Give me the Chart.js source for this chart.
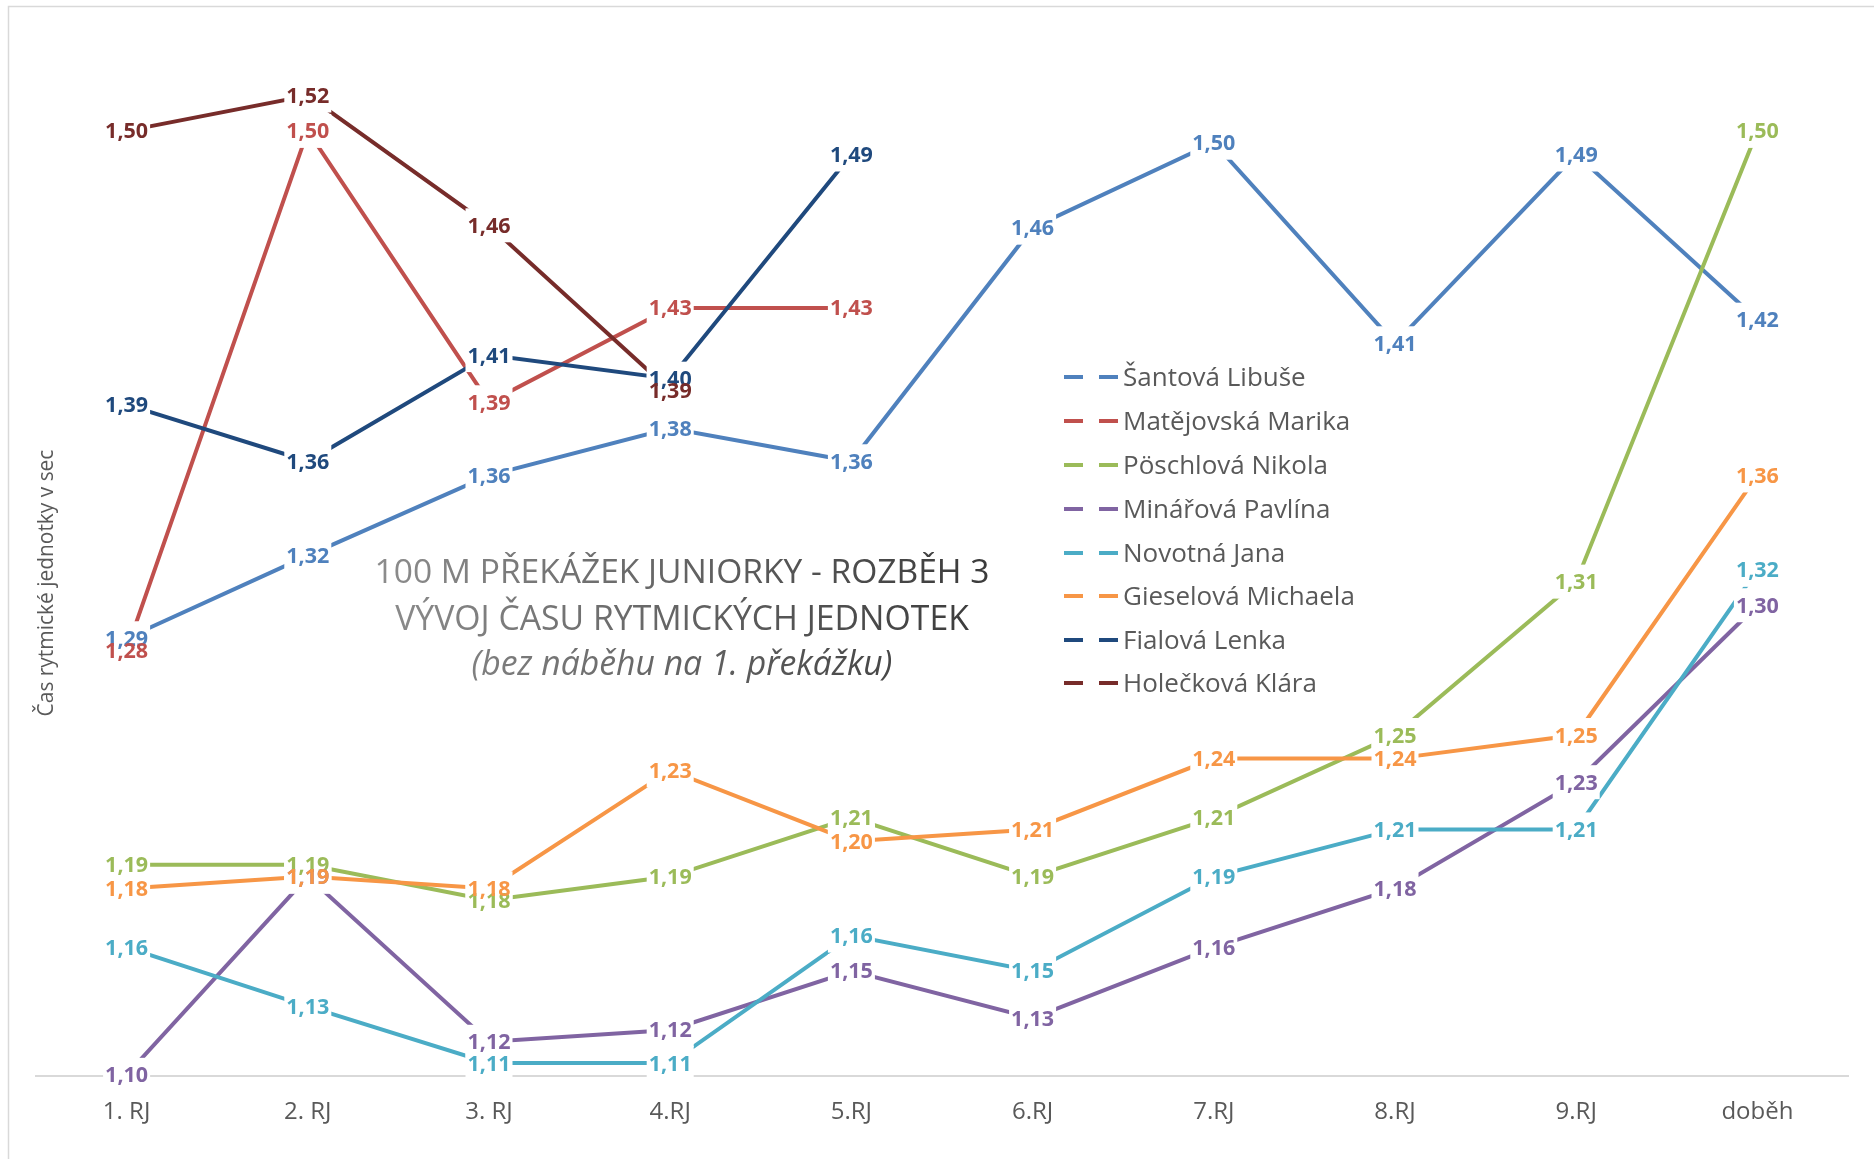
<!DOCTYPE html>
<html>
<head>
<meta charset="utf-8">
<title>100 m překážek juniorky - rozběh 3</title>
<script src="https://cdn.jsdelivr.net/npm/chart.js@4.4.0/dist/chart.umd.min.js"></script>
<style>
    html, body { margin: 0; padding: 0; background: #ffffff; }
    #wrap { width: 1874px; height: 1159px; }
</style>
</head>
<body>
<div id="wrap"><canvas id="chart" width="1874" height="1159"></canvas></div>
<script>
// === DATA ===
const categories = ['1. RJ', '2. RJ', '3. RJ', '4.RJ', '5.RJ', '6.RJ', '7.RJ', '8.RJ', '9.RJ', 'doběh'];

const santova     = [1.288, 1.323, 1.357, 1.377, 1.363, 1.462, 1.498, 1.413, 1.493, 1.423];
const matejovska  = [1.283, 1.503, 1.388, 1.428, 1.428, null, null, null, null, null];
const poschlova   = [1.192, 1.192, 1.177, 1.187, 1.212, 1.187, 1.212, 1.247, 1.312, 1.503];
const minarova    = [1.103, 1.187, 1.117, 1.122, 1.147, 1.127, 1.157, 1.182, 1.227, 1.302];
const novotna     = [1.157, 1.132, 1.108, 1.108, 1.162, 1.147, 1.187, 1.207, 1.207, 1.317];
const gieselova   = [1.182, 1.187, 1.182, 1.232, 1.202, 1.207, 1.237, 1.237, 1.247, 1.357];
const fialova     = [1.387, 1.363, 1.408, 1.398, 1.493, null, null, null, null, null];
const holeckova   = [1.503, 1.518, 1.463, 1.393, null, null, null, null, null, null];

const seriesNames = ['Šantová Libuše', 'Matějovská Marika', 'Pöschlová Nikola', 'Minářová Pavlína',
    'Novotná Jana', 'Gieselová Michaela', 'Fialová Lenka', 'Holečková Klára'];
const seriesData = [santova, matejovska, poschlova, minarova, novotna, gieselova, fialova, holeckova];
const seriesColors = ['#4F81BD', '#C0504D', '#9BBB59', '#8064A2', '#4BACC6', '#F79646', '#1F497D', '#772C2A'];

const titleLines = ['100 M PŘEKÁŽEK JUNIORKY - ROZBĚH 3', 'VÝVOJ ČASU RYTMICKÝCH JEDNOTEK', '(bez náběhu na 1. překážku)'];
const yAxisTitle = 'Čas rytmické jednotky v sec';

const FONT = '"Open Sans", "Noto Sans", sans-serif';
const TEXT_GREY = '#595959';

// === PLUGINS ===
const frame = {
    id: 'frame',
    beforeDraw(chart) {
        const ctx = chart.ctx;
        ctx.save();
        ctx.fillStyle = '#ffffff';
        ctx.fillRect(0, 0, chart.width, chart.height);
        ctx.strokeStyle = '#d9d9d9';
        ctx.lineWidth = 1.5;
        ctx.strokeRect(8.5, 6.5, chart.width + 20, chart.height + 20);
        ctx.restore();
    }
};

// value labels, centred on the points with a white box behind
const valueLabels = {
    id: 'valueLabels',
    afterDatasetsDraw(chart) {
        const ctx = chart.ctx;
        const items = [];
        ctx.save();
        ctx.font = 'bold 21.5px ' + FONT;
        chart.data.datasets.forEach((ds, i) => {
            const meta = chart.getDatasetMeta(i);
            meta.data.forEach((pt, j) => {
                const v = ds.data[j];
                if (v === null || v === undefined) return;
                const text = v.toFixed(2).replace('.', ',');
                items.push({ x: pt.x, y: pt.y, text: text, color: ds.borderColor, w: ctx.measureText(text).width });
            });
        });
        ctx.fillStyle = '#ffffff';
        items.forEach(it => ctx.fillRect(it.x - it.w / 2 - 2, it.y - 17, it.w + 4, 34));
        ctx.textAlign = 'center';
        ctx.textBaseline = 'alphabetic';
        items.forEach(it => {
            ctx.fillStyle = it.color;
            ctx.fillText(it.text, it.x, it.y + 7.5);
        });
        ctx.restore();
    }
};

function fitFont(ctx, text, style, target) {
    ctx.font = style + ' 30px ' + FONT;
    return 30 * target / ctx.measureText(text).width;
}

const decorations = {
    id: 'decorations',
    afterDraw(chart) {
        const ctx = chart.ctx;
        ctx.save();

        // title in the middle of the plot
        const grad = ctx.createLinearGradient(380, 0, 990, 0);
        grad.addColorStop(0, '#8c8c8c');
        grad.addColorStop(1, '#3a3a3a');
        ctx.fillStyle = grad;
        ctx.textAlign = 'center';
        ctx.textBaseline = 'alphabetic';
        const tWidths = [615, 574, 421];
        const tY = [571, 618, 663];
        const tStyle = ['', '', 'italic'];
        titleLines.forEach((line, i) => {
            const size = fitFont(ctx, line, tStyle[i], tWidths[i]);
            ctx.font = tStyle[i] + ' ' + size + 'px ' + FONT;
            ctx.fillText(line, 682, tY[i] + size * 0.36);
        });

        // legend
        const rowY = [377, 421, 465, 509, 553, 596, 640, 683];
        ctx.font = '26px ' + FONT;
        ctx.textAlign = 'left';
        ctx.lineWidth = 4;
        chart.data.datasets.forEach((ds, i) => {
            const y = rowY[i];
            ctx.strokeStyle = ds.borderColor;
            ctx.beginPath();
            ctx.moveTo(1064, y); ctx.lineTo(1083, y);
            ctx.moveTo(1099, y); ctx.lineTo(1118, y);
            ctx.stroke();
            ctx.fillStyle = TEXT_GREY;
            ctx.fillText(ds.label, 1123, y + 9);
        });

        // y axis title
        const ySize = fitFont(ctx, yAxisTitle, '', 267);
        ctx.font = ySize + 'px ' + FONT;
        ctx.translate(53, 583);
        ctx.rotate(-Math.PI / 2);
        ctx.textAlign = 'center';
        ctx.fillStyle = TEXT_GREY;
        ctx.fillText(yAxisTitle, 0, 0);

        ctx.restore();
    }
};

// === CHART ===
const datasets = seriesData.map((values, i) => ({
    label: seriesNames[i],
    data: values,
    borderColor: seriesColors[i],
    backgroundColor: seriesColors[i],
    borderWidth: 4,
    pointRadius: 0,
    pointHoverRadius: 0,
    tension: 0,
    fill: false,
    spanGaps: false,
    order: 20 - i
}));

new Chart(document.getElementById('chart'), {
    type: 'line',
    data: { labels: categories, datasets: datasets },
    options: {
        responsive: false,
        animation: false,
        devicePixelRatio: 1,
        layout: { padding: { left: 36, right: 26, top: 20, bottom: 0 } },
        plugins: {
            legend: { display: false },
            tooltip: { enabled: false },
            title: { display: false }
        },
        scales: {
            x: {
                offset: true,
                grid: { display: false, drawTicks: false },
                border: { display: true, color: '#d9d9d9', width: 2 },
                ticks: {
                    color: TEXT_GREY,
                    font: { family: FONT, size: 24 },
                    padding: 22,
                    maxRotation: 0,
                    autoSkip: false
                },
                afterFit: function (scale) { scale.height = 83; }
            },
            y: {
                display: false,
                min: 1.1025,
                max: 1.55
            }
        }
    },
    plugins: [frame, valueLabels, decorations]
});
</script>
</body>
</html>
